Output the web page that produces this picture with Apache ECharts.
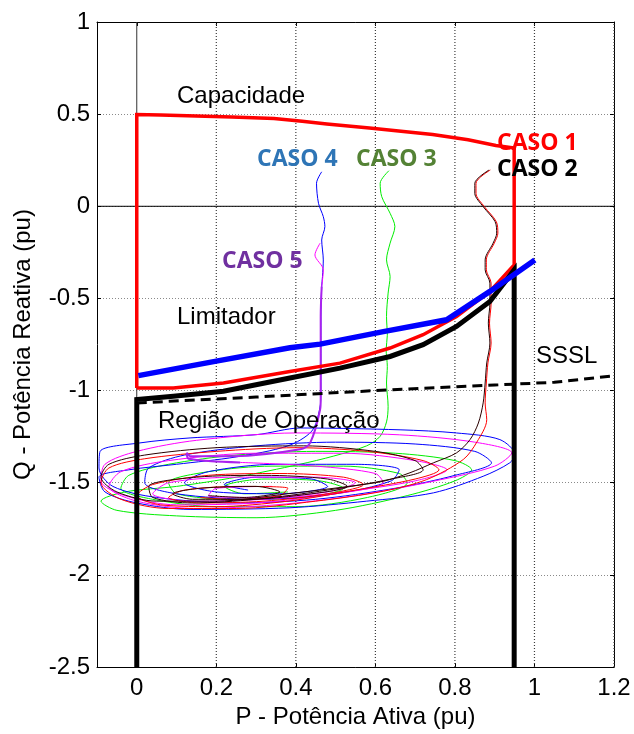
<!DOCTYPE html>
<html><head><meta charset="utf-8">
<script src="https://cdn.jsdelivr.net/npm/echarts@6/dist/echarts.min.js"></script>
<style>html,body{margin:0;padding:0;background:#fff}#c{width:634px;height:734px}</style>
</head><body><div id="c"></div>
<script>
// ---- axis ticks ----
const xTicks = [0, 0.2, 0.4, 0.6, 0.8, 1, 1.2];
const yMin = -2.5, yMax = 1, yStep = 0.5;
const xMin = -0.1, xMax = 1.2;

// ---- thick boundary curves ----
const capacidade = [[0,-0.986],[0,0.498],[0.06,0.495],[0.239,0.485],[0.345,0.476],[0.416,0.462],[0.478,0.447],[0.585,0.425],[0.744,0.389],[0.833,0.361],[0.903,0.33],[0.949,0.316],[0.949,-0.318],[0.888,-0.462],[0.804,-0.598],[0.72,-0.697],[0.637,-0.769],[0.511,-0.851],[0.385,-0.896],[0.218,-0.959],[0.092,-0.986],[0,-0.986]];
const regiaoOperacao = [[0,-2.5],[0,-1.049],[0.092,-1.031],[0.218,-1.004],[0.385,-0.932],[0.511,-0.878],[0.637,-0.815],[0.72,-0.751],[0.804,-0.652],[0.888,-0.517],[0.949,-0.345],[0.949,-2.5]];
const limitador = [[0.004,-0.919],[0.2,-0.84],[0.385,-0.768],[0.461,-0.748],[0.62,-0.68],[0.779,-0.616],[0.888,-0.462],[1.001,-0.291]];
const sssl = [[0,-1.067],[0.3,-1.035],[0.6,-1.0],[0.9,-0.97],[1.05,-0.955],[1.2,-0.92]];

// ---- trajectories ----
const caso1 = [[0.889,0.197],[0.853,0.125],[0.853,0.07],[0.874,-0.002],[0.904,-0.083],[0.908,-0.146],[0.899,-0.2],[0.879,-0.291],[0.879,-0.345],[0.891,-0.417],[0.891,-0.525],[0.887,-0.634],[0.891,-0.742],[0.883,-0.85],[0.879,-0.959],[0.876,-1.067],[0.88,-1.158],[0.855,-1.28],[0.821,-1.374],[0.729,-1.483],[0.62,-1.546],
 [0.45,-1.6],[0.25,-1.64],[0.08,-1.64],[-0.04,-1.59],[-0.09,-1.5],[-0.07,-1.42],[0.02,-1.37],[0.2,-1.33],[0.4,-1.31],[0.58,-1.33],[0.72,-1.38],[0.76,-1.43],[0.7,-1.48],[0.55,-1.54],[0.38,-1.6],[0.2,-1.63],[0.06,-1.62],[0.0,-1.57],[0.04,-1.51],[0.18,-1.46],[0.36,-1.45],[0.52,-1.47],[0.57,-1.51],[0.48,-1.56],[0.32,-1.6],[0.16,-1.61],[0.08,-1.58],[0.12,-1.54],[0.26,-1.52],[0.38,-1.53],[0.36,-1.57],[0.24,-1.59],[0.16,-1.58]];
const caso2 = [[0.886,0.197],[0.85,0.125],[0.85,0.07],[0.871,-0.002],[0.901,-0.083],[0.905,-0.146],[0.896,-0.2],[0.876,-0.291],[0.876,-0.345],[0.888,-0.417],[0.888,-0.525],[0.884,-0.634],[0.888,-0.742],[0.88,-0.85],[0.876,-0.959],[0.871,-1.067],[0.859,-1.176],[0.838,-1.266],[0.804,-1.338],[0.746,-1.392],[0.687,-1.446],[0.62,-1.492],[0.536,-1.519],
 [0.38,-1.56],[0.2,-1.6],[0.05,-1.6],[-0.05,-1.55],[-0.09,-1.47],[-0.07,-1.4],[0.02,-1.35],[0.2,-1.31],[0.42,-1.3],[0.6,-1.33],[0.7,-1.38],[0.72,-1.43],[0.64,-1.48],[0.48,-1.54],[0.3,-1.59],[0.14,-1.61],[0.04,-1.58],[0.03,-1.52],[0.15,-1.47],[0.32,-1.46],[0.48,-1.48],[0.53,-1.52],[0.44,-1.56],[0.28,-1.59],[0.14,-1.59],[0.09,-1.56],[0.16,-1.53],[0.3,-1.52],[0.36,-1.55],[0.27,-1.58],[0.18,-1.57]];
const caso3 = [[0.634,0.193],[0.612,0.125],[0.616,0.052],[0.637,-0.038],[0.649,-0.11],[0.637,-0.2],[0.628,-0.291],[0.637,-0.381],[0.632,-0.471],[0.628,-0.598],[0.63,-0.7],[0.627,-0.778],[0.63,-0.87],[0.628,-0.959],[0.632,-1.086],[0.628,-1.17],[0.612,-1.248],[0.578,-1.3],[0.494,-1.356],[0.41,-1.4],[0.25,-1.47],[0.1,-1.52],
 [-0.03,-1.55],[-0.09,-1.6],[-0.05,-1.65],[0.1,-1.68],[0.3,-1.69],[0.5,-1.65],[0.68,-1.57],[0.8,-1.49],[0.842,-1.43],[0.8,-1.38],[0.65,-1.34],[0.45,-1.33],[0.25,-1.35],[0.08,-1.4],[-0.02,-1.46],[-0.04,-1.53],[0.04,-1.59],[0.2,-1.63],[0.4,-1.63],[0.58,-1.58],[0.68,-1.5],[0.66,-1.45],[0.52,-1.41],[0.34,-1.41],[0.18,-1.44],[0.08,-1.5],[0.1,-1.56],[0.24,-1.59],[0.42,-1.58],[0.52,-1.53],[0.46,-1.49],[0.32,-1.48],[0.22,-1.52],[0.27,-1.56],[0.38,-1.55]];
const caso4 = [[0.465,0.187],[0.452,0.125],[0.457,0.016],[0.469,-0.056],[0.473,-0.11],[0.465,-0.183],[0.469,-0.291],[0.467,-0.381],[0.465,-0.435],[0.463,-0.6],[0.463,-0.8],[0.463,-1.0],[0.46,-1.1],[0.44,-1.22],[0.38,-1.3],[0.25,-1.36],[0.1,-1.4],[-0.02,-1.43],
 [-0.095,-1.47],[-0.08,-1.55],[0.0,-1.61],[0.134,-1.645],[0.385,-1.636],[0.578,-1.6],[0.746,-1.555],[0.871,-1.465],[0.938,-1.392],[0.951,-1.347],[0.913,-1.266],[0.804,-1.23],[0.662,-1.213],[0.411,-1.203],[0.302,-1.239],[0.134,-1.257],[0.008,-1.284],[-0.092,-1.329],[-0.095,-1.42],[-0.06,-1.52],[0.05,-1.58],[0.25,-1.61],[0.45,-1.59],[0.65,-1.53],[0.8,-1.46],[0.892,-1.392],[0.85,-1.33],[0.7,-1.29],[0.5,-1.28],[0.3,-1.3],[0.12,-1.35],[0.03,-1.42],[0.02,-1.5],[0.1,-1.56],[0.3,-1.59],[0.5,-1.56],[0.64,-1.49],[0.66,-1.43],[0.55,-1.4],[0.35,-1.4],[0.18,-1.44],[0.12,-1.5],[0.2,-1.55],[0.36,-1.56],[0.48,-1.52],[0.44,-1.48],[0.3,-1.47],[0.22,-1.51],[0.28,-1.54]];
const caso5Inicio = [[0.461,-0.2],[0.448,-0.264],[0.469,-0.345],[0.465,-0.435]];
const caso5Descida = [[0.465,-0.435],[0.4625,-0.598],[0.4625,-0.8],[0.4625,-1.049],[0.461,-1.103],[0.436,-1.284],[0.411,-1.319],[0.243,-1.356],[0.134,-1.356],[0.126,-1.338],[0.13,-1.37],[0.26,-1.39]];
const caso5Ciclos = [[0.26,-1.39],[0.45,-1.41],[0.6,-1.45],[0.62,-1.5],[0.5,-1.56],[0.3,-1.61],[0.1,-1.62],[-0.03,-1.57],[-0.09,-1.49],[-0.08,-1.4],[0.0,-1.33],[0.15,-1.27],[0.4,-1.23],[0.66,-1.24],[0.85,-1.28],[0.943,-1.338],[0.9,-1.41],[0.75,-1.49],[0.55,-1.57],[0.35,-1.62],[0.15,-1.64],[0.0,-1.6],[-0.07,-1.52],[-0.04,-1.44],[0.08,-1.38],[0.3,-1.34],[0.52,-1.34],[0.7,-1.38],[0.78,-1.43],[0.7,-1.49],[0.52,-1.55],[0.32,-1.59],[0.14,-1.6],[0.04,-1.56],[0.08,-1.5],[0.25,-1.47],[0.45,-1.47],[0.55,-1.5],[0.48,-1.55],[0.3,-1.58],[0.18,-1.57],[0.2,-1.53],[0.34,-1.52]];

const chart = echarts.init(document.getElementById('c'), null, {renderer: 'canvas'});
const FONT = 'Liberation Sans, Arial, sans-serif';
const BOLD = 'Open Sans, sans-serif';
const GRID_STYLE = {color: '#8a8a8a', type: [1, 2], width: 1};

function thin(data, color, w, z) {
  return {type: 'line', data: data, showSymbol: false, symbol: 'none', smooth: 0.3,
    lineStyle: {color: color, width: w || 1}, z: z || 2, silent: true, animation: false};
}
function thick(data, color, w, z, dash) {
  return {type: 'line', data: data, showSymbol: false, symbol: 'none',
    lineStyle: {color: color, width: w, type: dash || 'solid', cap: 'butt', join: 'miter'}, z: z, silent: true, animation: false};
}
function txt(s, x, y, color, bold) {
  return {type: 'text', x: x, y: y, z: 100, style: {text: s, fill: color || '#000',
    font: (bold ? 'bold 23px ' + BOLD : '24px ' + FONT), verticalAlign: 'middle', align: 'left'}};
}

const axisLineStyle = {show: true, onZero: false, lineStyle: {color: '#000', width: 1}};
const tickStyle = {show: true, inside: true, length: 4, lineStyle: {color: '#000'}};

// vertical grid lines at the x tick values (drawn as dotted line series)
const vGrid = xTicks.filter(v => v !== 0).map(v => ({
  type: 'line', data: [[v, yMin], [v, yMax]], showSymbol: false, symbol: 'none',
  lineStyle: {color: '#3c3c3c', type: [1, 2], width: 1.2}, z: 1, silent: true, animation: false
}));

chart.setOption({
  animation: false,
  backgroundColor: '#fff',
  grid: {left: 97, right: 20, top: 22, bottom: 66, containLabel: false},
  xAxis: [{
    type: 'value', min: xMin, max: xMax, position: 'bottom',
    name: 'P - Potência Ativa (pu)', nameLocation: 'middle', nameGap: 38,
    nameTextStyle: {fontFamily: FONT, fontSize: 24, color: '#000'},
    axisLine: axisLineStyle,
    axisTick: Object.assign({customValues: xTicks}, tickStyle),
    axisLabel: {customValues: xTicks, fontFamily: FONT, fontSize: 24, color: '#000', margin: 9},
    splitLine: {show: false}
  }, {
    type: 'value', min: xMin, max: xMax, position: 'top',
    axisLine: axisLineStyle,
    axisTick: Object.assign({customValues: xTicks}, tickStyle),
    axisLabel: {show: false}, splitLine: {show: false}
  }],
  yAxis: [{
    type: 'value', min: yMin, max: yMax, interval: yStep, position: 'left',
    name: 'Q - Potência Reativa (pu)', nameLocation: 'middle', nameGap: 62, nameRotate: 90,
    nameTextStyle: {fontFamily: FONT, fontSize: 24, color: '#000'},
    axisLine: axisLineStyle, axisTick: tickStyle,
    axisLabel: {fontFamily: FONT, fontSize: 24, color: '#000', margin: 7},
    splitLine: {show: true, lineStyle: GRID_STYLE}
  }, {
    type: 'value', min: yMin, max: yMax, interval: yStep, position: 'right',
    axisLine: axisLineStyle, axisTick: tickStyle,
    axisLabel: {show: false}, splitLine: {show: false}
  }],
  graphic: [
    txt('Capacidade', 177, 96),
    txt('CASO 1', 497, 143, '#ff0000', true),
    txt('CASO 2', 497, 169, '#000000', true),
    txt('CASO 4', 257, 159, '#2e75b6', true),
    txt('CASO 3', 356, 159, '#548235', true),
    txt('CASO 5', 222, 261, '#7030a0', true),
    txt('Limitador', 177, 317),
    txt('SSSL', 536, 356),
    txt('Região de Operação', 158, 421)
  ],
  series: vGrid.concat([
    thick([[xMin, 0], [xMax, 0]], '#000', 1, 1),
    thick([[0, yMin], [0, yMax]], '#333', 1, 1),
    thin(caso3, '#00ee00', 1, 3),
    thin(caso4, '#0000ff', 1, 3),
    thin(caso5Ciclos, '#ff00ff', 1, 3),
    thin(caso5Inicio, '#ff00ff', 1, 3),
    thin(caso1, '#ff0000', 1, 4),
    thin(caso2, '#2a0000', 1, 4),
    thin(caso5Descida, '#aa22ee', 2, 5),
    thick(sssl, '#000', 3, 6, [10, 6]),
    thick(capacidade, '#ff0000', 3.5, 7),
    thick(regiaoOperacao, '#000', 5, 8),
    thick(limitador, '#0000ff', 5.5, 9)
  ])
});
</script>
</body></html>
